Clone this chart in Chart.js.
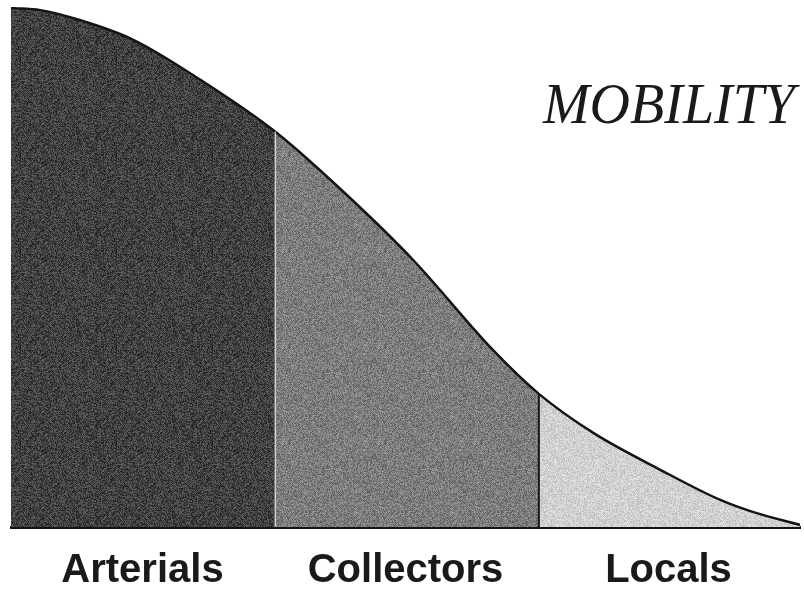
<!DOCTYPE html>
<html>
<head>
<meta charset="utf-8">
<script src="https://cdn.jsdelivr.net/npm/chart.js@4"></script>
<style>
  html, body { margin: 0; padding: 0; background: #fff; }
  #wrap { width: 804px; height: 590px; }
</style>
</head>
<body>
<div id="wrap"><canvas id="mobilityChart" width="804" height="590"></canvas></div>
<script>
const categories = ["Arterials", "Collectors", "Locals"];

// distance along the axis (0-100) and mobility (0-100)
const distance = [0, 3.7, 8.7, 15.5, 24.0, 33.5, 42.6, 51.0, 61.1, 66.9, 73.8, 82.3, 89.9, 94.0, 100];
const mobility = [99.8, 99.4, 97.5, 93.7, 86.0, 76.0, 63.8, 51.3, 34.0, 25.6, 18.1, 11.0, 5.2, 2.9, 0.4];
// where one class of road ends and the next begins (distance units)
const classBreaks = [33.5, 66.9];

const titleText = "MOBILITY";

const curve = distance.map((x, i) => ({ x: x, y: mobility[i] }));

function mobilityAt(x) {
    return mobility[distance.indexOf(x)];
}

// grainy print-like texture so the fills look like the scan
function hash(n) {
    const s = Math.sin(n * 12.9898 + 78.233) * 43758.5453;
    return s - Math.floor(s);
}

function grain(base, amp, seed) {
    const size = 96;
    const c = document.createElement("canvas");
    c.width = size; c.height = size;
    const g = c.getContext("2d");
    const img = g.createImageData(size, size);
    for (let y = 0; y < size; y++) {
        for (let x = 0; x < size; x++) {
            const i = (y * size + x) * 4;
            let v = base + (hash(x * 131 + y * 7919 + seed) - 0.5) * 2 * amp;
            if ((x + y) % 2 === 0) v += amp * 0.25;
            v = Math.max(0, Math.min(255, v));
            img.data[i] = v; img.data[i + 1] = v; img.data[i + 2] = v; img.data[i + 3] = 255;
        }
    }
    g.putImageData(img, 0, 0);
    return g.createPattern(c, "repeat");
}

const fills = [grain(60, 34, 1), grain(120, 32, 2), grain(206, 22, 3)];

function classFill(ctx) {
    const x = ctx.p0.parsed.x;
    if (x < classBreaks[0]) return fills[0];
    if (x < classBreaks[1]) return fills[1];
    return fills[2];
}

const titlePlugin = {
    id: "mobilityTitle",
    afterDraw(chart) {
        const ctx = chart.ctx;
        const area = chart.chartArea;
        ctx.save();
        ctx.font = "italic 56px 'Liberation Serif', 'DejaVu Serif', serif";
        ctx.fillStyle = "#1a1a1a";
        ctx.textAlign = "right";
        ctx.textBaseline = "alphabetic";
        ctx.fillText(titleText, area.right - 5, area.top + 116);
        ctx.restore();
    }
};

function divider(x, color, width) {
    return {
        label: "break",
        data: [{ x: x, y: 0 }, { x: x, y: mobilityAt(x) }],
        borderColor: color,
        borderWidth: width,
        pointRadius: 0,
        fill: false,
        order: 0
    };
}

new Chart(document.getElementById("mobilityChart"), {
    type: "line",
    data: {
        datasets: [
            {
                label: "Mobility",
                data: curve,
                borderColor: "#141414",
                borderWidth: 2.5,
                backgroundColor: fills[0],
                segment: { backgroundColor: classFill },
                fill: "origin",
                cubicInterpolationMode: "monotone",
                pointRadius: 0,
                order: 1
            },
            divider(classBreaks[0], "rgba(215,215,215,0.85)", 1.5),
            divider(classBreaks[1], "#141414", 2)
        ]
    },
    options: {
        responsive: false,
        animation: false,
        layout: { padding: { left: 11, right: 4, top: 7, bottom: -25 } },
        plugins: {
            legend: { display: false },
            tooltip: { enabled: false },
            title: { display: false }
        },
        scales: {
            x: { type: "linear", min: 0, max: 100, display: false },
            x2: {
                type: "category",
                labels: categories,
                position: "bottom",
                offset: true,
                z: 1,
                grid: { display: false, drawTicks: false },
                border: { display: true, color: "#141414", width: 3 },
                ticks: {
                    color: "#1a1a1a",
                    padding: 20,
                    maxRotation: 0,
                    font: { family: "'Liberation Sans', Arial, sans-serif", size: 40, weight: "bold" }
                }
            },
            y: { min: 0, max: 100, display: false }
        }
    },
    plugins: [titlePlugin]
});
</script>
</body>
</html>
